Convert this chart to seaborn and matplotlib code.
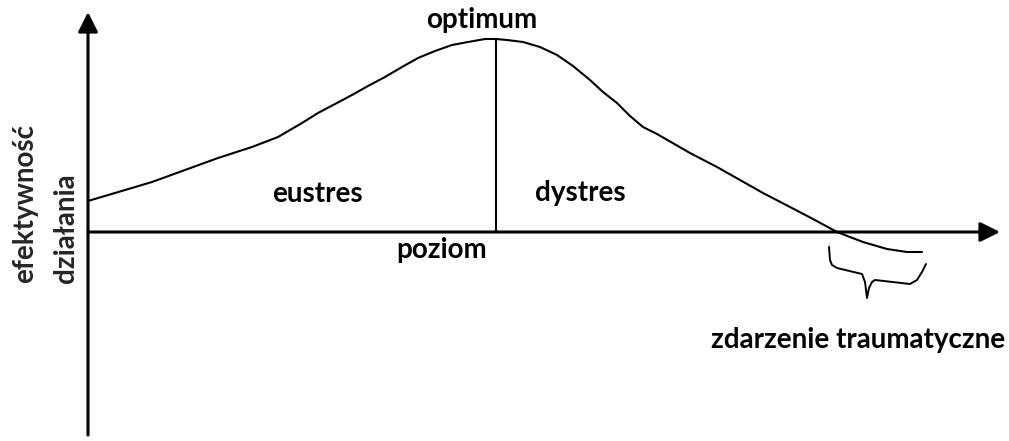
import matplotlib
matplotlib.use("Agg")
import matplotlib.pyplot as plt
import seaborn as sns
import pandas as pd

sns.set_theme(style="white")
plt.rcParams['font.family'] = ['Lato', 'DejaVu Sans']

# Curve of performance vs. stress level (x right of origin, y up from the "poziom" axis)
curve_x = [0, 64, 97, 130, 164, 190, 214, 230, 247, 264, 280, 297, 314, 330, 347, 364, 380, 397, 408,
           419, 435, 452, 469, 485, 502, 515, 529, 542, 555, 569, 602, 629, 652, 675, 702, 725, 749,
           775, 799, 819, 834]
curve_y = [31, 50, 62, 74, 85, 95, 109, 119, 128, 137, 146, 155, 165, 174, 181, 187, 190, 193, 193,
           192, 190, 185, 177, 166, 152, 140, 129, 116, 105, 98, 79, 65, 52, 39, 25, 13, 0,
           -10, -17, -20, -20]

# Hand-drawn brace under the trauma region
brace_x = [741, 741, 742, 744, 749, 774, 777, 779, 781, 784, 787, 822, 829, 834, 838]
brace_y = [-10, -20, -28, -33, -36, -42, -50, -66, -56, -50, -48, -52, -48, -40, -32]

optimum_x = 408
optimum_y = 193

labels = {
    "optimum": (394, 204),
    "eustres": (229, 30),
    "dystres": (492, 31),
    "poziom": (354, -26),
    "zdarzenie traumatyczne": (770, -116),
}

df = pd.DataFrame({"x": curve_x, "y": curve_y})
bf = pd.DataFrame({"x": brace_x, "y": brace_y})

fig = plt.figure(figsize=(10.09, 4.41), dpi=100)
ax = fig.add_axes([0, 0, 1, 1])
ax.set_xlim(-88, 921)
ax.set_ylim(-209, 232)
ax.axis("off")

sns.lineplot(data=df, x="x", y="y", ax=ax, color="black", linewidth=1.5, sort=False)
sns.lineplot(data=bf, x="x", y="y", ax=ax, color="black", linewidth=1.4, sort=False)

# vertical optimum line
ax.plot([optimum_x, optimum_x], [0, optimum_y], color="black", linewidth=1.5)

# axes arrows
arrow = dict(arrowstyle="-|>,head_length=1.2,head_width=0.6", color="black", lw=2.2,
             shrinkA=0, shrinkB=0, mutation_scale=10)
ax.annotate("", xy=(912, 0), xytext=(0, 0), arrowprops=arrow)
ax.annotate("", xy=(0, 220), xytext=(0, -203), arrowprops=arrow)

fs = 20
for txt, (x, y) in labels.items():
    ax.text(x, y, txt, ha="center", va="baseline", fontsize=fs, fontweight="bold", color="black")

ax.text(-63, -51, "efektywność", rotation=90, ha="left", va="center", fontsize=fs,
        fontweight="bold", rotation_mode="anchor")
ax.text(-22, -51, "działania", rotation=90, ha="left", va="center", fontsize=fs,
        fontweight="bold", rotation_mode="anchor")

fig.savefig("out.png", dpi=100)
